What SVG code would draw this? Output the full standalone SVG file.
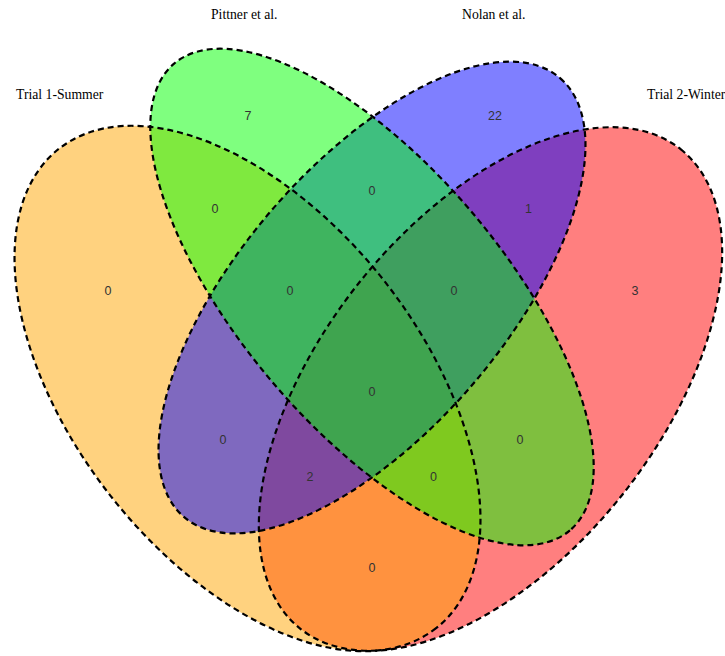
<svg xmlns="http://www.w3.org/2000/svg" width="725" height="656" viewBox="0 0 725 656">
<style>
.set{stroke:none}
.out{fill:none;stroke:#000;stroke-width:2.2;stroke-dasharray:6 4}
.cat{font-family:"Liberation Serif","Times New Roman",serif;font-size:13.7px;fill:#000}
.num{font-family:"Liberation Sans",Arial,sans-serif;font-size:12.5px;fill:#333;text-anchor:middle}
</style>
<rect width="725" height="656" fill="#fff"/>
<g id="trial2-winter"><ellipse class="set" rx="306" ry="169" transform="translate(490.5,389) rotate(-51.6)" fill="#FF0000" fill-opacity="0.5"/></g>
<g id="trial1-summer"><ellipse class="set" rx="305" ry="174" transform="translate(247.5,388.5) rotate(51.8)" fill="#FFA500" fill-opacity="0.5"/></g>
<g id="nolan"><ellipse class="set" rx="289" ry="133" transform="translate(372,297.5) rotate(-49.4)" fill="#0000FF" fill-opacity="0.5"/></g>
<g id="pittner"><ellipse class="set" rx="306" ry="131" transform="translate(372,297) rotate(49.7)" fill="#00FF00" fill-opacity="0.5"/></g>
<g id="outlines">
<ellipse class="out" rx="306" ry="169" transform="translate(490.5,389) rotate(-51.6)"/>
<ellipse class="out" rx="305" ry="174" transform="translate(247.5,388.5) rotate(51.8)"/>
<ellipse class="out" rx="289" ry="133" transform="translate(372,297.5) rotate(-49.4)"/>
<ellipse class="out" rx="306" ry="131" transform="translate(372,297) rotate(49.7)"/>
</g>
<g id="category-labels">
<text class="cat" x="16" y="99">Trial 1-Summer</text>
<text class="cat" x="211" y="19">Pittner et al.</text>
<text class="cat" x="462" y="19">Nolan et al.</text>
<text class="cat" x="647" y="99">Trial 2-Winter</text>
</g>
<g id="counts">
<text class="num" x="108" y="294.5">0</text>
<text class="num" x="248" y="119.5">7</text>
<text class="num" x="495" y="119.5">22</text>
<text class="num" x="635" y="294.5">3</text>
<text class="num" x="215" y="212.5">0</text>
<text class="num" x="372" y="194.5">0</text>
<text class="num" x="528.5" y="212.5">1</text>
<text class="num" x="290" y="294.5">0</text>
<text class="num" x="454" y="294.5">0</text>
<text class="num" x="372" y="396">0</text>
<text class="num" x="223" y="443.5">0</text>
<text class="num" x="310" y="480.5">2</text>
<text class="num" x="433.5" y="480.5">0</text>
<text class="num" x="520" y="443.5">0</text>
<text class="num" x="372" y="572">0</text>
</g>
</svg>
